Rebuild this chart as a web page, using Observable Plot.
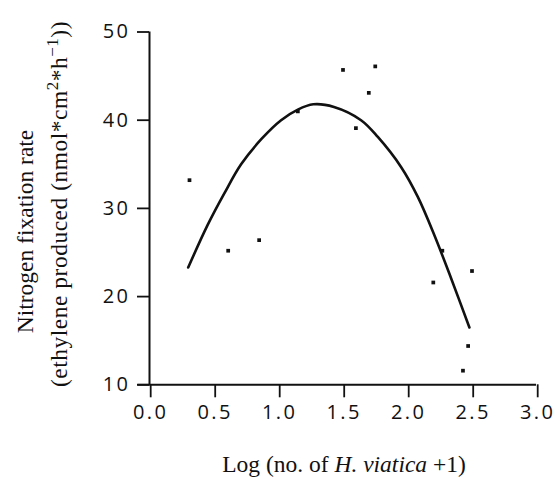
<!DOCTYPE html>
<html><head><meta charset="utf-8">
<script src="https://cdn.jsdelivr.net/npm/d3@7"></script>
<script src="https://cdn.jsdelivr.net/npm/@observablehq/plot@0.6"></script>
<style>
body{margin:0;background:#fff}
g[aria-label="x-axis tick label"] text, g[aria-label="y-axis tick label"] text {letter-spacing:2.5px}
</style>
</head><body><div id="chart"></div>
<script>
// observed points
const pointX = [0.31, 0.61, 0.85, 1.15, 1.50, 1.60, 1.70, 1.75, 2.20, 2.27, 2.43, 2.47, 2.50];
const pointY = [33.2, 25.2, 26.4, 41.0, 45.7, 39.1, 43.1, 46.1, 21.6, 25.2, 11.6, 14.4, 22.9];
// fitted curve
const curveX = [0.30, 0.45, 0.58, 0.71, 0.87, 1.02, 1.15, 1.27, 1.43, 1.64, 1.77, 1.95, 2.08, 2.21, 2.34, 2.48];
const curveY = [23.3, 28.1, 31.7, 35.0, 37.9, 40.0, 41.2, 41.8, 41.5, 40.0, 38.1, 34.7, 31.3, 26.9, 22.0, 16.5];
const xTicks = [0, 0.5, 1.0, 1.5, 2.0, 2.5, 3.0];
const yTicks = [10, 20, 30, 40, 50];
const yLabel1 = "Nitrogen fixation rate";
const xLabelParts = [["Log (no. of ", false], ["H. viatica", true], [" +1)", false]];

const points = pointX.map((x, i) => ({x, y: pointY[i]}));
const curve = curveX.map((x, i) => ({x, y: curveY[i]}));

const plot = Plot.plot({
  width: 555, height: 482,
  marginLeft: 149, marginRight: 19, marginTop: 31.5, marginBottom: 97.7,
  style: {fontFamily: "'Open Sans', sans-serif", fontSize: "20px", color: "#111", background: "#fff"},
  x: {domain: [0, 3]},
  y: {domain: [10, 50]},
  marks: [
    Plot.axisX(xTicks, {tickFormat: d3.format(".1f"), tickSize: 13, tickPadding: 7, strokeWidth: 1.8, fontSize: 20, label: null, dx: 1.2}),
    Plot.axisY(yTicks, {tickSize: 12, tickPadding: 7, strokeWidth: 1.8, fontSize: 20, label: null}),
    Plot.ruleY([10], {x1: -0.09, x2: 3, stroke: "#111", strokeWidth: 2}),
    Plot.ruleX([0], {y1: 10, y2: 50, stroke: "#111", strokeWidth: 2}),
    Plot.line(curve, {x: "x", y: "y", curve: "catmull-rom", stroke: "#111", strokeWidth: 2.6}),
    Plot.dot(points, {x: "x", y: "y", symbol: "square", r: 2.1, fill: "#111", stroke: "none"})
  ]
});

const svg = d3.select(plot);
const serif = "'Liberation Serif', 'Times New Roman', serif";
svg.append("text")
  .attr("transform", "translate(33,231.5) rotate(-90)")
  .attr("text-anchor", "middle").attr("font-family", serif).attr("font-size", 23.5).attr("fill", "#111")
  .text(yLabel1);
const t2 = svg.append("text")
  .attr("transform", "translate(67,204) rotate(-90)")
  .attr("text-anchor", "middle").attr("font-family", serif).attr("font-size", 23.5)
  .attr("letter-spacing", 0.5).attr("fill", "#111");
t2.append("tspan").text("(ethylene produced (nmol*cm");
t2.append("tspan").attr("dy", -9).attr("font-size", 17).text("2");
t2.append("tspan").attr("dy", 9).text("*h");
t2.append("tspan").attr("dy", -9).attr("font-size", 17).text("\u22121");
t2.append("tspan").attr("dy", 9).text("))");

const xl = svg.append("text")
  .attr("x", 344).attr("y", 472)
  .attr("text-anchor", "middle").attr("font-family", serif).attr("font-size", 23.5).attr("fill", "#111");
xLabelParts.forEach(([s, it]) => xl.append("tspan").attr("font-style", it ? "italic" : "normal").text(s));

document.getElementById("chart").appendChild(plot);
</script>
</body></html>
